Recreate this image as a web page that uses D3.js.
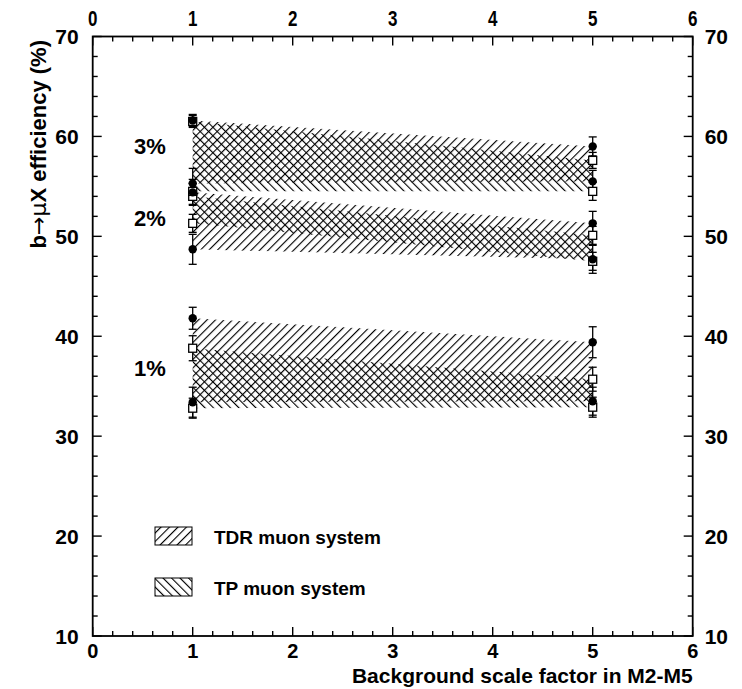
<!DOCTYPE html>
<html><head><meta charset="utf-8">
<script src="https://cdn.jsdelivr.net/npm/d3@7"></script>
<style>body{margin:0;background:#fff}svg{display:block}text{font-family:"Liberation Sans",Arial,Helvetica,sans-serif;font-weight:bold;fill:#000}</style>
</head><body><div id="chart"></div>
<script>
// ---- data ----
const xPoints = [1, 5];
const rates = ["1%", "2%", "3%"];
// TDR muon system (filled circles): band limits at x=1 and x=5
const tdrHighAt1 = [41.8, 54.4, 61.6];
const tdrLowAt1  = [33.4, 48.7, 55.3];
const tdrHighAt5 = [39.4, 51.3, 59.0];
const tdrLowAt5  = [33.5, 47.7, 55.5];
const tdrHighErr1 = [1.1, 1.3, 0.6];
const tdrLowErr1  = [1.5, 1.5, 1.5];
const tdrHighErr5 = [1.55, 1.2, 0.95];
const tdrLowErr5  = [1.4, 1.4, 1.1];
// TP muon system (open squares)
const tpHighAt1 = [38.8, 54.0, 61.5];
const tpLowAt1  = [32.8, 51.3, 54.5];
const tpHighAt5 = [35.7, 50.1, 57.6];
const tpLowAt5  = [32.9, 47.5, 54.5];
const tpHighErr1 = [1.25, 0.8, 0.6];
const tpLowErr1  = [1.0, 0.9, 0.8];
const tpHighErr5 = [1.2, 0.9, 0.8];
const tpLowErr5  = [1.0, 0.9, 0.9];
const xTicks = [0, 1, 2, 3, 4, 5, 6];
const yTicks = [10, 20, 30, 40, 50, 60, 70];
const rateLabelY = [36.8, 51.8, 59.0];
const legendItems = ["TDR muon system", "TP muon system"];

// ---- layout ----
const W = 742, H = 689;
const m = {l: 92.7, r: 49.3, t: 36.5, b: 53};
const svg = d3.select("#chart").append("svg").attr("width", W).attr("height", H);
const x = d3.scaleLinear().domain([0, 6]).range([m.l, W - m.r]);
const y = d3.scaleLinear().domain([10, 70]).range([H - m.b, m.t]);

const defs = svg.append("defs");
function hatch(id, angle) {
  const s = 6;
  const p = defs.append("pattern").attr("id", id).attr("patternUnits", "userSpaceOnUse")
    .attr("width", s).attr("height", s).attr("patternTransform", `rotate(${angle})`);
  p.append("line").attr("x1", 0.5).attr("y1", -1).attr("x2", 0.5).attr("y2", s + 1)
    .attr("stroke", "#000").attr("stroke-width", 1.25);
}
hatch("tdr", 45);
hatch("tp", -45);

// ---- bands ----
const area = d3.area().x(d => x(d.x)).y0(d => y(d.lo)).y1(d => y(d.hi));
rates.forEach((r, i) => {
  const tdr = [{x: xPoints[0], lo: tdrLowAt1[i], hi: tdrHighAt1[i]}, {x: xPoints[1], lo: tdrLowAt5[i], hi: tdrHighAt5[i]}];
  const tp = [{x: xPoints[0], lo: tpLowAt1[i], hi: tpHighAt1[i]}, {x: xPoints[1], lo: tpLowAt5[i], hi: tpHighAt5[i]}];
  svg.append("path").attr("d", area(tdr)).attr("fill", "url(#tdr)");
  svg.append("path").attr("d", area(tp)).attr("fill", "url(#tp)");
});

// ---- points with error bars ----
function errbar(xv, v, e) {
  const g = svg.append("g").attr("stroke", "#000").attr("stroke-width", 1.3);
  g.append("line").attr("x1", x(xv)).attr("x2", x(xv)).attr("y1", y(v - e)).attr("y2", y(v + e));
  [v - e, v + e].forEach(t => g.append("line").attr("x1", x(xv) - 4).attr("x2", x(xv) + 4).attr("y1", y(t)).attr("y2", y(t)));
}
const pts = [];
rates.forEach((r, i) => {
  pts.push({t: "tp", x: xPoints[0], v: tpHighAt1[i], e: tpHighErr1[i]});
  pts.push({t: "tp", x: xPoints[0], v: tpLowAt1[i], e: tpLowErr1[i]});
  pts.push({t: "tp", x: xPoints[1], v: tpHighAt5[i], e: tpHighErr5[i]});
  pts.push({t: "tp", x: xPoints[1], v: tpLowAt5[i], e: tpLowErr5[i]});
  pts.push({t: "tdr", x: xPoints[0], v: tdrHighAt1[i], e: tdrHighErr1[i]});
  pts.push({t: "tdr", x: xPoints[0], v: tdrLowAt1[i], e: tdrLowErr1[i]});
  pts.push({t: "tdr", x: xPoints[1], v: tdrHighAt5[i], e: tdrHighErr5[i]});
  pts.push({t: "tdr", x: xPoints[1], v: tdrLowAt5[i], e: tdrLowErr5[i]});
});
pts.forEach(p => errbar(p.x, p.v, p.e));
pts.filter(p => p.t === "tp").forEach(p => svg.append("rect")
  .attr("x", x(p.x) - 4).attr("y", y(p.v) - 4).attr("width", 8).attr("height", 8)
  .attr("fill", "#fff").attr("stroke", "#000").attr("stroke-width", 1.3));
pts.filter(p => p.t === "tdr").forEach(p => svg.append("circle")
  .attr("cx", x(p.x)).attr("cy", y(p.v)).attr("r", 4.2).attr("fill", "#000"));

// ---- rate labels ----
rates.forEach((r, i) => svg.append("text").attr("x", 134).attr("y", y(rateLabelY[i]))
  .attr("dy", "0.36em").attr("font-size", 22).text(r));

// ---- frame & axes ----
svg.append("rect").attr("x", m.l).attr("y", m.t).attr("width", x(6) - m.l).attr("height", y(10) - m.t)
  .attr("fill", "none").attr("stroke", "#000").attr("stroke-width", 1.8);

const xMinor = d3.range(0, 6.001, 0.2);
const yMinor = d3.range(10, 70.001, 2);
function isMajor(v, step) { return Math.abs(v / step - Math.round(v / step)) < 1e-6; }
const tickG = svg.append("g").attr("stroke", "#000").attr("stroke-width", 1.4);
xMinor.forEach(v => {
  const L = isMajor(v, 1) ? 9 : 5;
  tickG.append("line").attr("x1", x(v)).attr("x2", x(v)).attr("y1", y(10)).attr("y2", y(10) - L);
  tickG.append("line").attr("x1", x(v)).attr("x2", x(v)).attr("y1", y(70)).attr("y2", y(70) + L);
});
yMinor.forEach(v => {
  const L = isMajor(v, 10) ? 9 : 5;
  tickG.append("line").attr("x1", x(0)).attr("x2", x(0) + L).attr("y1", y(v)).attr("y2", y(v));
  tickG.append("line").attr("x1", x(6)).attr("x2", x(6) - L).attr("y1", y(v)).attr("y2", y(v));
});

// tick labels
xTicks.forEach(v => {
  svg.append("text").attr("x", x(v)).attr("y", y(10) + 22).attr("text-anchor", "middle").attr("font-size", 20).text(v);
  svg.append("text").attr("transform", `translate(${x(v)},${y(70) - 11}) scale(0.85,1.1)`)
    .attr("text-anchor", "middle").attr("font-size", 20).text(v);
});
yTicks.forEach(v => {
  svg.append("text").attr("x", x(0) - 14).attr("y", y(v)).attr("dy", "0.36em").attr("text-anchor", "end").attr("font-size", 21).text(v);
  svg.append("text").attr("x", x(6) + 12).attr("y", y(v)).attr("dy", "0.36em").attr("text-anchor", "start").attr("font-size", 21).text(v);
});

// axis titles
svg.append("text").attr("x", x(6)).attr("y", 683).attr("text-anchor", "end").attr("font-size", 21)
  .text("Background scale factor in M2-M5");
const yt = svg.append("text").attr("transform", `translate(46,40) rotate(-90)`).attr("text-anchor", "end").attr("font-size", 22);
yt.append("tspan").text("b");
yt.append("tspan").attr("font-weight", "normal").attr("font-family", "DejaVu Sans").attr("fill", "#000").text("→μ");
yt.append("tspan").text("X efficiency (%)");

// legend
legendItems.forEach((t, i) => {
  const yy = 527 + i * 51;
  svg.append("rect").attr("x", 155).attr("y", yy).attr("width", 37).attr("height", 18)
    .attr("fill", i === 0 ? "url(#tdr)" : "url(#tp)").attr("stroke", "#000").attr("stroke-width", 1);
  svg.append("text").attr("x", 214).attr("y", yy + 17).attr("font-size", 19).text(t);
});
</script></body></html>
